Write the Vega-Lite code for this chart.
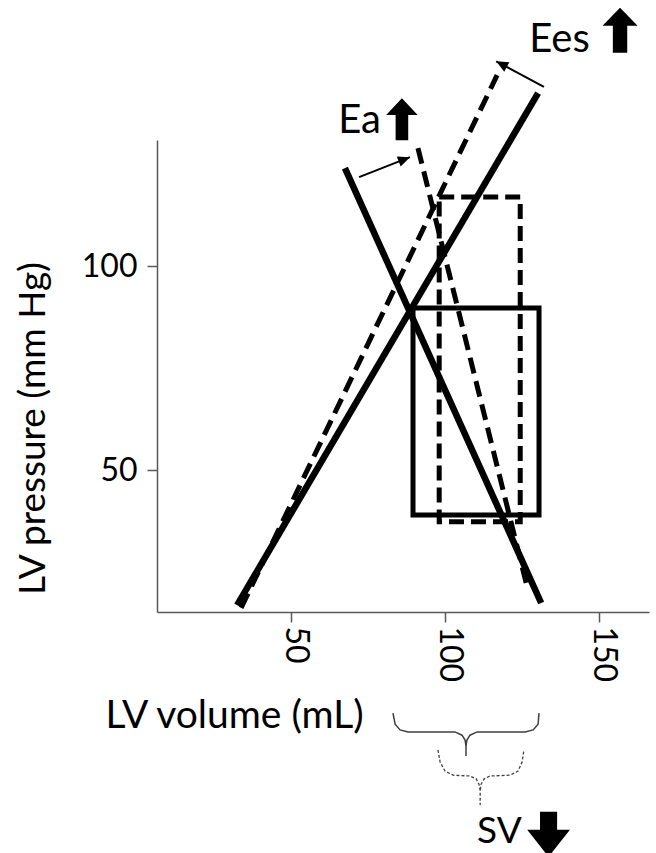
{
  "$schema": "https://vega.github.io/schema/vega-lite/v6.json",
  "width": 492,
  "height": 472,
  "autosize": {"type": "none"},
  "padding": {"left": 157, "top": 140, "right": 7, "bottom": 241},
  "background": "white",
  "config": {"view": {"stroke": null}, "font": "Lato"},
  "datasets": {
    "lines": [
      {"id": "ees_solid", "o": 1, "x": 32.5, "y": 16.9},
      {"id": "ees_solid", "o": 2, "x": 130.2, "y": 142.4},
      {"id": "ees_dashed", "o": 1, "x": 33.8, "y": 16.2},
      {"id": "ees_dashed", "o": 2, "x": 116.9, "y": 146.8},
      {"id": "ea_solid", "o": 1, "x": 67.5, "y": 124.0},
      {"id": "ea_solid", "o": 2, "x": 131.2, "y": 17.4},
      {"id": "ea_dashed", "o": 1, "x": 91.2, "y": 128.9},
      {"id": "ea_dashed", "o": 2, "x": 126.9, "y": 20.6},
      {"id": "ea_arrow", "o": 1, "x": 72.1, "y": 121.8},
      {"id": "ea_arrow", "o": 2, "x": 88.6, "y": 126.7},
      {"id": "ees_arrow", "o": 1, "x": 132.1, "y": 143.9},
      {"id": "ees_arrow", "o": 2, "x": 116.6, "y": 150.2}
    ],
    "rects": [
      {"id": "solid", "x": 89.6, "x2": 130.5, "y": 39.0, "y2": 89.7},
      {"id": "dashed", "x": 98.1, "x2": 124.4, "y": 37.3, "y2": 116.9}
    ],
    "marks": [
      {"id": "ea_head", "x": 88.6, "y": 126.7},
      {"id": "ees_head", "x": 116.6, "y": 150.2},
      {"id": "ea_block", "x": 86.0, "y": 136.0},
      {"id": "ees_block", "x": 156.8, "y": 157.8},
      {"id": "sv_block", "x": 133.6, "y": -39.3}
    ],
    "labels": [
      {"text": "Ea", "x": 65.3, "y": 132.6},
      {"text": "Ees", "x": 127.3, "y": 152.5}
    ],
    "labels2": [
      {"text": "SV", "x": 110.4, "y": -41.4}
    ],
    "braces": [
      {"brace": "solid", "seg": "L", "o": 1, "x": 83.1, "y": -9.6},
      {"brace": "solid", "seg": "L", "o": 2, "x": 83.8, "y": -12.3},
      {"brace": "solid", "seg": "L", "o": 3, "x": 85.4, "y": -13.7},
      {"brace": "solid", "seg": "L", "o": 4, "x": 88.0, "y": -14.2},
      {"brace": "solid", "seg": "L", "o": 5, "x": 103.2, "y": -14.2},
      {"brace": "solid", "seg": "L", "o": 6, "x": 105.5, "y": -15.0},
      {"brace": "solid", "seg": "L", "o": 7, "x": 106.5, "y": -16.2},
      {"brace": "solid", "seg": "L", "o": 8, "x": 106.8, "y": -17.6},
      {"brace": "solid", "seg": "L", "o": 9, "x": 106.8, "y": -20.1},
      {"brace": "solid", "seg": "R", "o": 1, "x": 106.8, "y": -17.6},
      {"brace": "solid", "seg": "R", "o": 2, "x": 107.1, "y": -16.2},
      {"brace": "solid", "seg": "R", "o": 3, "x": 108.1, "y": -15.0},
      {"brace": "solid", "seg": "R", "o": 4, "x": 110.4, "y": -14.2},
      {"brace": "solid", "seg": "R", "o": 5, "x": 126.0, "y": -14.2},
      {"brace": "solid", "seg": "R", "o": 6, "x": 128.6, "y": -13.7},
      {"brace": "solid", "seg": "R", "o": 7, "x": 130.2, "y": -12.3},
      {"brace": "solid", "seg": "R", "o": 8, "x": 130.5, "y": -9.6},
      {"brace": "dashed", "seg": "L", "o": 1, "x": 97.7, "y": -18.6},
      {"brace": "dashed", "seg": "L", "o": 2, "x": 98.4, "y": -21.6},
      {"brace": "dashed", "seg": "L", "o": 3, "x": 100.0, "y": -23.8},
      {"brace": "dashed", "seg": "L", "o": 4, "x": 102.6, "y": -24.8},
      {"brace": "dashed", "seg": "L", "o": 5, "x": 108.1, "y": -25.0},
      {"brace": "dashed", "seg": "L", "o": 6, "x": 110.1, "y": -25.7},
      {"brace": "dashed", "seg": "L", "o": 7, "x": 111.0, "y": -27.0},
      {"brace": "dashed", "seg": "L", "o": 8, "x": 111.4, "y": -28.4},
      {"brace": "dashed", "seg": "L", "o": 9, "x": 111.4, "y": -32.1},
      {"brace": "dashed", "seg": "R", "o": 1, "x": 111.4, "y": -28.4},
      {"brace": "dashed", "seg": "R", "o": 2, "x": 111.7, "y": -27.0},
      {"brace": "dashed", "seg": "R", "o": 3, "x": 112.7, "y": -25.7},
      {"brace": "dashed", "seg": "R", "o": 4, "x": 114.6, "y": -25.0},
      {"brace": "dashed", "seg": "R", "o": 5, "x": 121.1, "y": -24.8},
      {"brace": "dashed", "seg": "R", "o": 6, "x": 123.7, "y": -23.8},
      {"brace": "dashed", "seg": "R", "o": 7, "x": 125.0, "y": -21.6},
      {"brace": "dashed", "seg": "R", "o": 8, "x": 125.6, "y": -18.6}
    ]
  },
  "encoding": {
    "x": {
      "field": "x", "type": "quantitative",
      "scale": {"domain": [6.5, 166.2], "nice": false, "zero": false},
      "axis": {
        "title": "LV volume (mL)", "values": [50, 100, 150], "grid": false,
        "labelAngle": 90, "labelAlign": "left", "labelBaseline": "middle",
        "labelFontSize": 32, "labelFont": "Lato", "labelColor": "black", "labelPadding": 4, "labelOffset": 4,
        "labelFlush": false,
        "tickSize": 10, "tickColor": "#595959", "tickWidth": 1.5,
        "domainColor": "#595959", "domainWidth": 1.5,
        "titleFontSize": 39, "titleFont": "Lato", "titleFontWeight": "normal", "titleColor": "black",
        "titleAlign": "left", "titleAnchor": "start", "titleBaseline": "alphabetic",
        "titleX": -52, "titleY": 115
      }
    },
    "y": {
      "field": "y", "type": "quantitative",
      "scale": {"domain": [15.2, 130.9], "nice": false, "zero": false},
      "axis": {
        "title": "LV pressure (mm Hg)", "values": [50, 100], "grid": false,
        "labelFontSize": 32, "labelFont": "Lato", "labelColor": "black", "labelPadding": 10,
        "labelFlush": false,
        "tickSize": 10, "tickColor": "#595959", "tickWidth": 1.5,
        "domainColor": "#595959", "domainWidth": 1.5,
        "titleFontSize": 37, "titleFont": "Lato", "titleFontWeight": "normal", "titleColor": "black",
        "titleAngle": -90, "titleAlign": "center", "titleBaseline": "middle",
        "titleX": -124, "titleY": 288
      }
    }
  },
  "layer": [
    {
      "data": {"name": "rects"},
      "transform": [{"filter": "datum.id === 'solid'"}],
      "mark": {"type": "rect", "fill": "white", "fillOpacity": 0, "stroke": "black", "strokeWidth": 5},
      "encoding": {"x2": {"field": "x2"}, "y2": {"field": "y2"}}
    },
    {
      "data": {"name": "rects"},
      "transform": [{"filter": "datum.id === 'dashed'"}],
      "mark": {"type": "rect", "fill": "white", "fillOpacity": 0, "stroke": "black", "strokeWidth": 5, "strokeDash": [15, 7]},
      "encoding": {"x2": {"field": "x2"}, "y2": {"field": "y2"}}
    },
    {
      "data": {"name": "lines"},
      "transform": [{"filter": "datum.id === 'ees_solid' || datum.id === 'ea_solid'"}],
      "mark": {"type": "line", "color": "black", "strokeWidth": 6.5},
      "encoding": {"detail": {"field": "id"}, "order": {"field": "o"}}
    },
    {
      "data": {"name": "lines"},
      "transform": [{"filter": "datum.id === 'ees_dashed' || datum.id === 'ea_dashed'"}],
      "mark": {"type": "line", "color": "black", "strokeWidth": 5, "strokeDash": [16, 8]},
      "encoding": {"detail": {"field": "id"}, "order": {"field": "o"}}
    },
    {
      "data": {"name": "lines"},
      "transform": [{"filter": "datum.id === 'ea_arrow' || datum.id === 'ees_arrow'"}],
      "mark": {"type": "line", "color": "black", "strokeWidth": 2},
      "encoding": {"detail": {"field": "id"}, "order": {"field": "o"}}
    },
    {
      "data": {"name": "marks"},
      "transform": [{"filter": "datum.id === 'ea_head'"}],
      "mark": {"type": "point", "filled": true, "color": "black", "opacity": 1, "shape": "M0,0 L0.45,1 L-0.45,1 Z", "size": 576, "angle": 69}
    },
    {
      "data": {"name": "marks"},
      "transform": [{"filter": "datum.id === 'ees_head'"}],
      "mark": {"type": "point", "filled": true, "color": "black", "opacity": 1, "shape": "M0,0 L0.45,1 L-0.45,1 Z", "size": 576, "angle": 298}
    },
    {
      "data": {"name": "marks"},
      "transform": [{"filter": "datum.id === 'ea_block'"}],
      "mark": {"type": "point", "filled": true, "color": "black", "opacity": 1, "shape": "M0,-1 L0.75,-0.2 L0.3,-0.2 L0.3,1 L-0.3,1 L-0.3,-0.2 L-0.75,-0.2 Z", "size": 1764}
    },
    {
      "data": {"name": "marks"},
      "transform": [{"filter": "datum.id === 'ees_block'"}],
      "mark": {"type": "point", "filled": true, "color": "black", "opacity": 1, "shape": "M0,-1 L0.78,-0.2 L0.32,-0.2 L0.32,1 L-0.32,1 L-0.32,-0.2 L-0.78,-0.2 Z", "size": 2025}
    },
    {
      "data": {"name": "marks"},
      "transform": [{"filter": "datum.id === 'sv_block'"}],
      "mark": {"type": "point", "filled": true, "color": "black", "opacity": 1, "shape": "M0,1 L0.95,-0.2 L0.38,-0.2 L0.38,-1 L-0.38,-1 L-0.38,-0.2 L-0.95,-0.2 Z", "size": 2025}
    },
    {
      "data": {"name": "labels"},
      "mark": {"type": "text", "align": "left", "baseline": "alphabetic", "font": "Lato", "fontSize": 40, "color": "black"},
      "encoding": {"text": {"field": "text"}}
    },
    {
      "data": {"name": "labels2"},
      "mark": {"type": "text", "align": "left", "baseline": "alphabetic", "font": "Lato", "fontSize": 37, "color": "black"},
      "encoding": {"text": {"field": "text"}}
    },
    {
      "data": {"name": "braces"},
      "transform": [{"filter": "datum.brace === 'solid'"}],
      "mark": {"type": "line", "color": "#404040", "strokeWidth": 1.5},
      "encoding": {"detail": {"field": "seg"}, "order": {"field": "o"}}
    },
    {
      "data": {"name": "braces"},
      "transform": [{"filter": "datum.brace === 'dashed'"}],
      "mark": {"type": "line", "color": "#404040", "strokeWidth": 1.3, "strokeDash": [3, 2]},
      "encoding": {"detail": {"field": "seg"}, "order": {"field": "o"}}
    }
  ]
}
